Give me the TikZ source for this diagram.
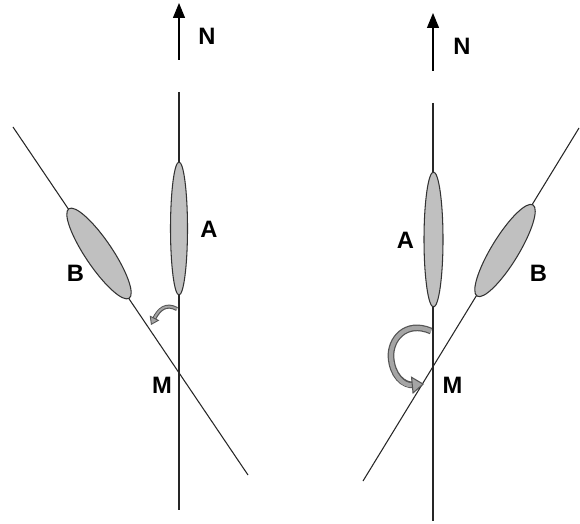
\documentclass[tikz,border=0pt]{standalone}
\usepackage{fontspec}
\setmainfont{Liberation Sans}
\usetikzlibrary{positioning,arrows.meta,shapes.geometric}
\definecolor{ellfill}{RGB}{192,192,192}
\definecolor{turnfill}{RGB}{165,165,165}
\definecolor{turnedge}{RGB}{85,85,85}

\begin{document}
\begin{tikzpicture}[x=0.02cm, y=-0.02cm,
  ln/.style={line width=0.6pt, black!85},
  north/.style={line width=0.7pt, -{Triangle[length=0.3cm, width=0.24cm]}},
  ell/.style={ellipse, draw=black!80, fill=ellfill, line width=0.6pt, inner sep=0pt},
  lb/.style={font=\fontsize{13.5}{16}\selectfont\bfseries},
  smallturn/.style={draw=turnfill, line width=1.1pt,
    -{Triangle[length=4.5pt, width=6pt, fill=turnfill, color=turnedge, line width=0.5pt]},
    preaction={draw=turnedge, line width=2.3pt, arrows=-, shorten >=3.5pt}},
  bigturn/.style={draw=turnfill, line width=2.4pt,
    -{Triangle[length=7pt, width=10pt, fill=turnfill, color=turnedge, line width=0.6pt]},
    preaction={draw=turnedge, line width=3.8pt, arrows=-, shorten >=5.5pt}},
]
\path[fill=white, use as bounding box] (0,0) rectangle (580,523);

% left panel
\coordinate (lNbot) at (179,60);  \coordinate (lNtip) at (179,3);
\coordinate (lVtop) at (179,92);  \coordinate (lVbot) at (179,510);
\coordinate (lDtop) at (13,127);  \coordinate (lDbot) at (248,475);
\draw[north] (lNbot) -- (lNtip);
\draw[ln] (lVtop) -- (lVbot);
\draw[ln] (lDtop) -- (lDbot);
\node[ell, minimum width=0.34cm, minimum height=2.66cm] (lA) at (179,228.5) {};
\node[ell, minimum width=2.16cm, minimum height=0.54cm, rotate=-56] (lB) at (99,253.5) {};
\coordinate (lT0) at (177,309); \coordinate (lT1) at (151,325);
\draw[smallturn] (lT0) .. controls (166,303) and (159,309) .. (lT1);
\node[lb] (lNlab) at (207,36) {N};
\node[lb] (lAlab) at (209,229) {A};
\node[lb] (lBlab) at (75.5,273.5) {B};
\node[lb] (lMlab) at (162,385) {M};

% right panel
\coordinate (rNbot) at (433,71);  \coordinate (rNtip) at (433,13);
\coordinate (rVtop) at (433,103); \coordinate (rVbot) at (433,521);
\coordinate (rDtop) at (579,128); \coordinate (rDbot) at (363,481);
\draw[north] (rNbot) -- (rNtip);
\draw[ln] (rVtop) -- (rVbot);
\draw[ln] (rDtop) -- (rDbot);
\node[ell, minimum width=0.38cm, minimum height=2.7cm] (rA) at (433.5,239.5) {};
\node[ell, minimum width=2.14cm, minimum height=0.54cm, rotate=58.5] (rB) at (505,250.5) {};
\coordinate (rT0) at (431,331); \coordinate (rT1) at (424,384);
\draw[bigturn] (rT0) .. controls (405,320) and (390,340) .. (391,357)
               .. controls (392,375) and (403,386) .. (rT1);
\node[lb] (rNlab) at (462,46) {N};
\node[lb] (rAlab) at (405.5,240.5) {A};
\node[lb] (rBlab) at (538.5,273.5) {B};
\node[lb] (rMlab) at (452.5,385) {M};
\end{tikzpicture}
\end{document}
